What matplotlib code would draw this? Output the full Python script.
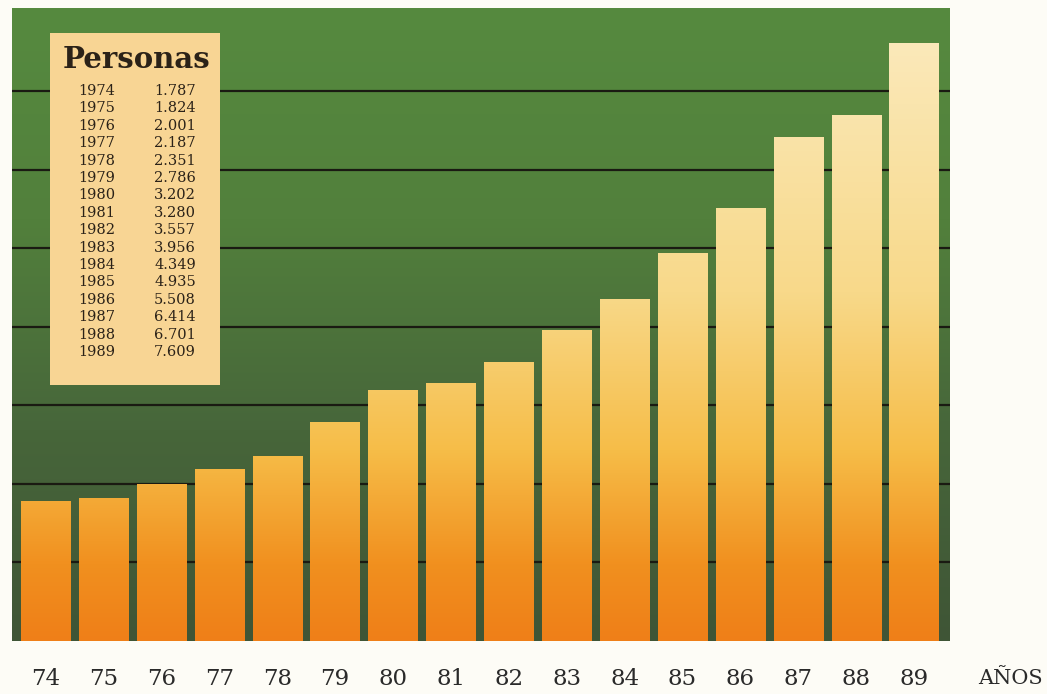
import numpy as np
import matplotlib.pyplot as plt
from matplotlib.colors import LinearSegmentedColormap

# datos
years = ['74', '75', '76', '77', '78', '79', '80', '81', '82', '83', '84', '85', '86', '87', '88', '89']
full_years = ['1974', '1975', '1976', '1977', '1978', '1979', '1980', '1981',
              '1982', '1983', '1984', '1985', '1986', '1987', '1988', '1989']
personas = [1.787, 1.824, 2.001, 2.187, 2.351, 2.786, 3.202, 3.280,
            3.557, 3.956, 4.349, 4.935, 5.508, 6.414, 6.701, 7.609]
labels_val = ['1.787', '1.824', '2.001', '2.187', '2.351', '2.786', '3.202', '3.280',
              '3.557', '3.956', '4.349', '4.935', '5.508', '6.414', '6.701', '7.609']
grid_vals = [1, 2, 3, 4, 5, 6, 7]

W, H = 1047, 694
fig = plt.figure(figsize=(W / 100, H / 100), dpi=100)
fig.patch.set_facecolor('#fdfcf6')

ax = fig.add_axes([12 / W, 1 - 641 / H, 938 / W, 633 / H])
x = np.arange(len(years))
xlim = (-0.58, 15.62)
ylim = (0, 8.06)
ax.set_xlim(*xlim)
ax.set_ylim(*ylim)

# fondo verde degradado
bg = LinearSegmentedColormap.from_list('bg', ['#3f5536', '#47663a', '#52803c', '#568a3f'])
grad = np.linspace(0, 1, 256).reshape(-1, 1)
ax.imshow(grad, cmap=bg, aspect='auto', extent=(xlim[0], xlim[1], ylim[0], ylim[1]),
          origin='lower', zorder=0)

for g in grid_vals:
    ax.axhline(g, color='#1a1a12', linewidth=1.6, zorder=1)

# barras con degradado naranja -> amarillo
bar_cmap = LinearSegmentedColormap.from_list(
    'bars', [(0.0, '#ef7f18'), (0.12, '#f1901f'), (0.3, '#f6bd48'),
             (0.55, '#f8d98a'), (1.0, '#fbebc0')])
bars = ax.bar(x, personas, width=0.85, color='none', edgecolor='none', zorder=2)
for b in bars:
    im = ax.imshow(grad, cmap=bar_cmap, aspect='auto', origin='lower',
                   extent=(xlim[0], xlim[1], ylim[0], ylim[1]), zorder=2)
    im.set_clip_path(b)

for s in ax.spines.values():
    s.set_visible(False)
ax.set_xticks([])
ax.set_yticks([])

# etiquetas del eje x
for i, lab in enumerate(years):
    ax.text(i, -0.48, lab, ha='center', va='center', fontsize=16.5,
            family='DejaVu Serif', color='#2a2a2a')
fig.text(1043 / W, 1 - 678 / H, 'AÑOS', ha='right', va='center', fontsize=15,
         family='DejaVu Serif', color='#2a2a2a')

# tabla
tx0, ty0, tw, th = 50, 33, 170, 352
tab = fig.add_axes([tx0 / W, 1 - (ty0 + th) / H, tw / W, th / H])
tab.set_facecolor('#f8d594')
tab.set_xlim(tx0, tx0 + tw)
tab.set_ylim(ty0 + th, ty0)
tab.set_xticks([])
tab.set_yticks([])
for s in tab.spines.values():
    s.set_visible(False)
tab.text(137, 59, 'Personas', ha='center', va='center', fontsize=21,
         fontweight='bold', family='DejaVu Serif', color='#2b2218')
for i, (yr, v) in enumerate(zip(full_years, labels_val)):
    yy = 91 + i * 17.4
    tab.text(97, yy, yr, ha='center', va='center', fontsize=10.5,
             family='DejaVu Serif', color='#2b2218')
    tab.text(175, yy, v, ha='center', va='center', fontsize=10.5,
             family='DejaVu Serif', color='#2b2218')

fig.savefig('out.png', dpi=100, facecolor=fig.get_facecolor())
